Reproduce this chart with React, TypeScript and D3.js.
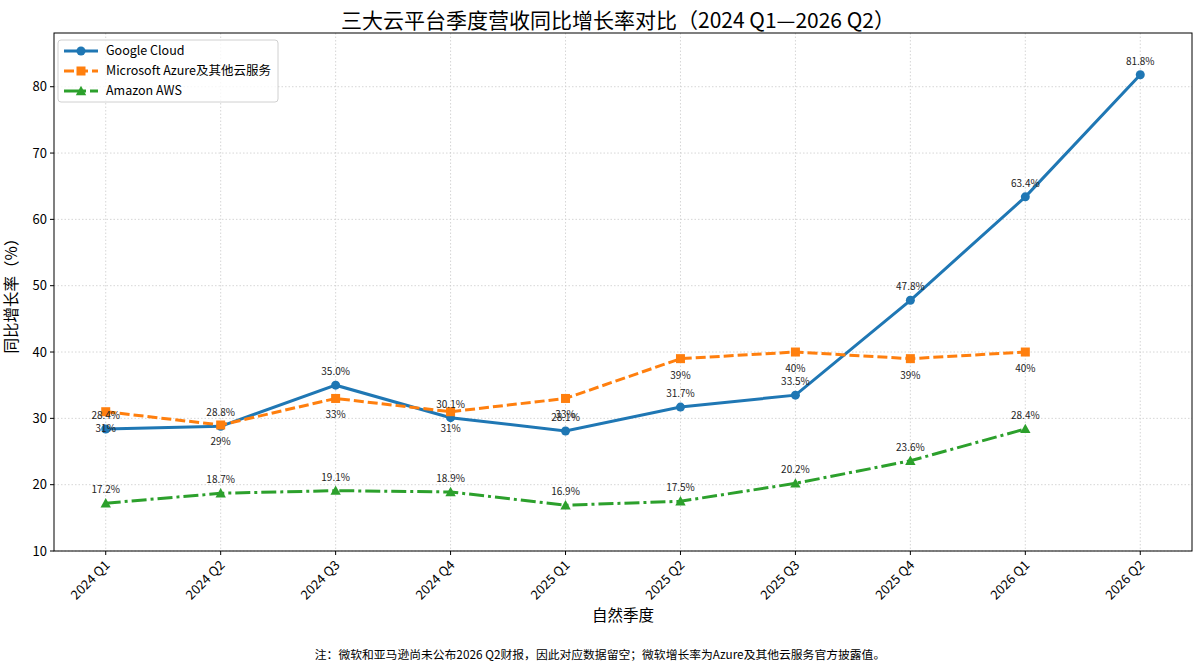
import * as d3 from 'd3';

const quarters = ['2024 Q1', '2024 Q2', '2024 Q3', '2024 Q4', '2025 Q1', '2025 Q2', '2025 Q3', '2025 Q4', '2026 Q1', '2026 Q2'];
const googleValues: (number | null)[] = [28.4, 28.8, 35.0, 30.1, 28.1, 31.7, 33.5, 47.8, 63.4, 81.8];
const azureValues: (number | null)[] = [31, 29, 33, 31, 33, 39, 40, 39, 40, null];
const awsValues: (number | null)[] = [17.2, 18.7, 19.1, 18.9, 16.9, 17.5, 20.2, 23.6, 28.4, null];
const yTicks = [10, 20, 30, 40, 50, 60, 70, 80];

const FONT = '"Noto Sans CJK SC", "Noto Sans", sans-serif';

const series = [
  { name: 'Google Cloud', values: googleValues, color: '#1f77b4', dash: '', marker: 'circle', labelDy: -10, fmt: (v: number) => `${v.toFixed(1)}%` },
  { name: 'Microsoft Azure及其他云服务', values: azureValues, color: '#ff7f0e', dash: '10,4', marker: 'square', labelDy: 20, fmt: (v: number) => `${v}%` },
  { name: 'Amazon AWS', values: awsValues, color: '#2ca02c', dash: '15,4,3,4', marker: 'triangle', labelDy: -10, fmt: (v: number) => `${v.toFixed(1)}%` },
];

function Marker({ type, x, y, color }: { type: string; x: number; y: number; color: string }) {
  if (type === 'circle') return <circle cx={x} cy={y} r={4.5} fill={color} />;
  if (type === 'square') return <rect x={x - 4.5} y={y - 4.5} width={9} height={9} fill={color} />;
  const s = 5.2;
  return <path d={`M${x},${y - s}L${x + s},${y + s * 0.8}L${x - s},${y + s * 0.8}Z`} fill={color} />;
}

export default function App() {
  const width = 1201;
  const height = 671;
  const margin = { top: 33, right: 9, bottom: 120, left: 54 };
  const innerW = width - margin.left - margin.right;
  const innerH = height - margin.top - margin.bottom;

  const x = d3.scaleLinear().domain([-0.45, quarters.length - 1 + 0.45]).range([0, innerW]);
  const y = d3.scaleLinear().domain([10, 88.1]).range([innerH, 0]);

  const line = d3
    .line<number | null>()
    .defined((d) => d !== null)
    .x((_, i) => x(i))
    .y((d) => y(d as number));

  return (
    <svg width={width} height={height} style={{ position: 'absolute', left: 0, top: 0, fontFamily: FONT }}>
      <rect width={width} height={height} fill="#fff" />
      <text x={618} y={28} textAnchor="middle" fontSize={21} fill="#000">
        三大云平台季度营收同比增长率对比（2024 Q1—2026 Q2）
      </text>
      <g transform={`translate(${margin.left},${margin.top})`}>
        {/* grid */}
        {quarters.map((_, i) => (
          <line key={`gx${i}`} x1={x(i)} x2={x(i)} y1={0} y2={innerH} stroke="#cccccc" strokeWidth={0.8} strokeDasharray="1.5,2" />
        ))}
        {yTicks.map((t) => (
          <line key={`gy${t}`} x1={0} x2={innerW} y1={y(t)} y2={y(t)} stroke="#cccccc" strokeWidth={0.8} strokeDasharray="1.5,2" />
        ))}

        {/* series */}
        {series.map((s) => (
          <g key={s.name}>
            <path d={line(s.values) || ''} fill="none" stroke={s.color} strokeWidth={3} strokeDasharray={s.dash} />
            {s.values.map((v, i) =>
              v === null ? null : <Marker key={i} type={s.marker} x={x(i)} y={y(v)} color={s.color} />
            )}
          </g>
        ))}
        {series.map((s) =>
          s.values.map((v, i) =>
            v === null ? null : (
              <text key={`${s.name}-l${i}`} x={x(i)} y={y(v) + s.labelDy} textAnchor="middle" fontSize={10} fill="#222">
                {s.fmt(v)}
              </text>
            )
          )
        )}

        {/* frame */}
        <rect x={0} y={0} width={innerW} height={innerH} fill="none" stroke="#000" strokeWidth={1} />

        {/* y axis */}
        {yTicks.map((t) => (
          <g key={`yt${t}`} transform={`translate(0,${y(t)})`}>
            <line x1={-4} x2={0} stroke="#000" />
            <text x={-7} dy="0.35em" textAnchor="end" fontSize={13} fill="#000">
              {t}
            </text>
          </g>
        ))}
        {/* x axis */}
        {quarters.map((q, i) => (
          <g key={`xt${i}`} transform={`translate(${x(i)},${innerH})`}>
            <line y1={0} y2={4} stroke="#000" />
            <text transform="translate(5,15) rotate(-45)" textAnchor="end" fontSize={13} fill="#000">
              {q}
            </text>
          </g>
        ))}

        <text x={innerW / 2} y={innerH + 70} textAnchor="middle" fontSize={15.5} fill="#000">
          自然季度
        </text>
        <text transform={`translate(${-37},${innerH / 2}) rotate(-90)`} textAnchor="middle" fontSize={15.5} fill="#000">
          同比增长率（%）
        </text>

        {/* legend */}
        <g transform="translate(4,7)">
          <rect x={0} y={0} width={220} height={62} rx={3} fill="#fff" fillOpacity={0.8} stroke="#d0d0d0" />
          {series.map((s, i) => (
            <g key={`lg${i}`} transform={`translate(0,${11 + i * 20})`}>
              <line x1={6} x2={40} stroke={s.color} strokeWidth={3} strokeDasharray={s.dash} />
              <Marker type={s.marker} x={23} y={0} color={s.color} />
              <text x={48} dy="0.35em" fontSize={12.5} fill="#000">
                {s.name}
              </text>
            </g>
          ))}
        </g>
      </g>
      <text x={600} y={659} textAnchor="middle" fontSize={11.8} fill="#000">
        注：微软和亚马逊尚未公布2026 Q2财报，因此对应数据留空；微软增长率为Azure及其他云服务官方披露值。
      </text>
    </svg>
  );
}
